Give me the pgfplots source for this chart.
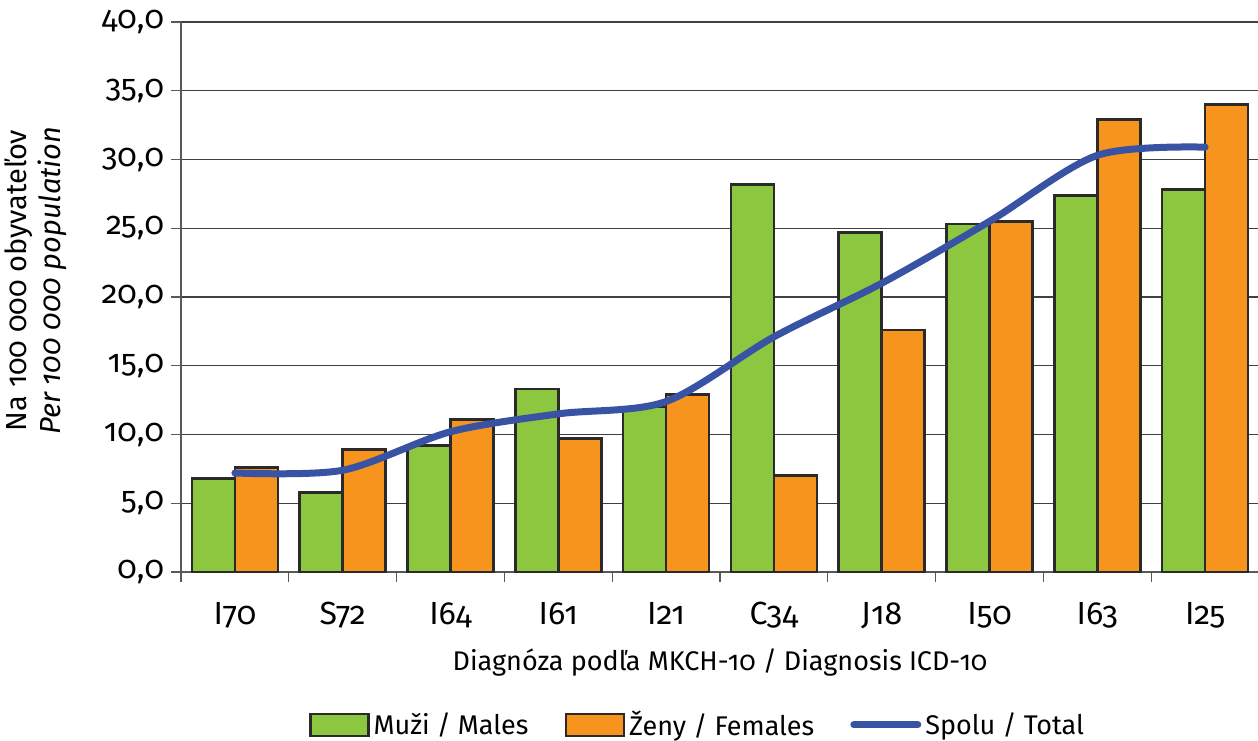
\documentclass[border=0pt]{standalone}
\usepackage{fontspec}
\setmainfont{Fira Sans}[Numbers=OldStyle]
\usepackage{pgfplots}
\usepackage{pgfplotstable}
\pgfplotsset{compat=1.18}
\definecolor{mgreen}{HTML}{8DC63F}
\definecolor{forange}{HTML}{F7941D}
\definecolor{tblue}{HTML}{3953A4}
\definecolor{edge}{HTML}{2A2A2A}
\pgfplotstableread{
x m f t
0 6.8 7.6 7.2
1 5.8 8.9 7.4
2 9.2 11.1 10.2
3 13.3 9.7 11.5
4 12.0 12.9 12.4
5 28.2 7.0 17.1
6 24.7 17.6 21.0
7 25.3 25.5 25.5
8 27.4 32.9 30.3
9 27.8 34.0 30.9
}\data
\newcommand{\fs}{\fontsize{13.5}{16}\selectfont}
\newcommand{\fy}{\fontsize{14.5}{17}\selectfont}
\newcommand{\ft}{\fontsize{16}{18}\selectfont}
\begin{document}
\begin{tikzpicture}
\begin{axis}[
  scale only axis, width=539pt, height=275pt,
  xmin=-0.5, xmax=9.5, ymin=0, ymax=40,
  axis lines*=left,
  axis line style={draw=gray!70!black, line width=0.8pt},
  ytick={0,5,...,40},
  /pgf/number format/fixed,
  /pgf/number format/fixed zerofill,
  /pgf/number format/precision=1,
  /pgf/number format/use comma,
  /pgf/number format/assume math mode=true,
  yticklabel style={font=\ft},
  xtick={0,...,9},
  xticklabels={I70,S72,I64,I61,I21,C34,J18,I50,I63,I25},
  xticklabel style={font=\ft, yshift=-6.5pt},
  minor xtick={-0.5,0.5,...,9.5},
  tick align=outside,
  major tick length=5pt, minor tick length=5pt,
  major x tick style={draw=none},
  minor x tick style={draw=gray!70!black, line width=0.6pt},
  major y tick style={draw=gray!70!black, line width=0.6pt},
  ymajorgrids,
  grid style={draw=black!75, line width=0.6pt},
  every axis y label/.style={at={(axis description cs:-0.135,0.53)}, anchor=center, rotate=90, align=center, font=\fy},
  every axis x label/.style={at={(axis description cs:0.5,-0.164)}, anchor=center, font=\fs},
  ylabel={Na 100 000 obyvateľov\\\textit{Per 100 000 population}},
  xlabel={Diagnóza podľa MKCH-10 / Diagnosis ICD-10},
  legend style={at={(0.48,-0.278)}, anchor=center, draw=none, fill=none, legend columns=3, font=\fs,
    /tikz/every even column/.append style={column sep=16pt}},
  legend cell align=left,
  clip=false,
]
\addplot[ybar, bar width=21.5pt, bar shift=-10.75pt, fill=mgreen, draw=edge, line width=1.3pt,
  legend image code/.code={\draw[fill=mgreen, draw=edge, line width=1.3pt] (0pt,-5.5pt) rectangle (29pt,5.5pt);}]
  table[x=x,y=m]{\data};
\addlegendentry{Muži / Males}
\addplot[ybar, bar width=21.5pt, bar shift=10.75pt, fill=forange, draw=edge, line width=1.3pt,
  legend image code/.code={\draw[fill=forange, draw=edge, line width=1.3pt] (0pt,-5.5pt) rectangle (29pt,5.5pt);}]
  table[x=x,y=f]{\data};
\addlegendentry{Ženy / Females}
\addplot[smooth, tblue, line width=3.5pt, line cap=round, no markers,
  legend image code/.code={\draw[tblue, line width=3.5pt, line cap=round] (0pt,0pt) -- (32pt,0pt);}]
  table[x=x,y=t]{\data};
\addlegendentry{Spolu / Total}
\end{axis}
\pgfresetboundingbox
\path[use as bounding box] (-90.5pt,-84pt) rectangle (538.5pt,286pt);
\end{tikzpicture}
\end{document}
